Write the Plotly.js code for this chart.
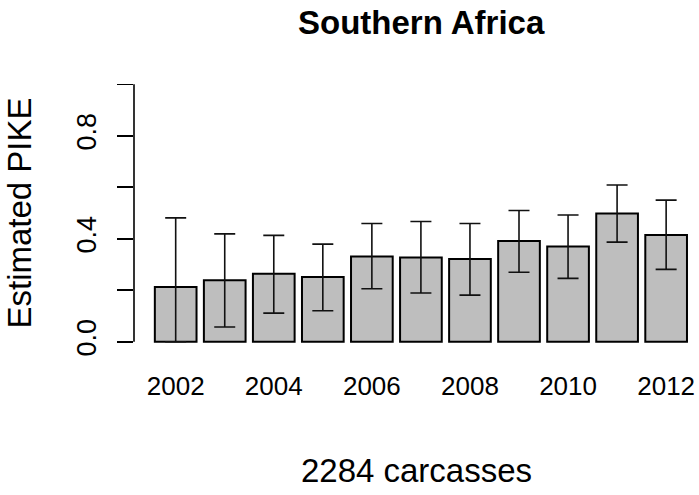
<!DOCTYPE html>
<html>
<head>
<meta charset="utf-8">
<script src="https://cdn.plot.ly/plotly-3.0.1.min.js"></script>
<style>html,body{margin:0;padding:0;background:#fff;}#chart{width:699px;height:495px;}</style>
</head>
<body>
<div id="chart"></div>
<script>
// Data
var years = [2002, 2003, 2004, 2005, 2006, 2007, 2008, 2009, 2010, 2011, 2012];
var pike  = [0.213, 0.239, 0.264, 0.251, 0.331, 0.327, 0.321, 0.391, 0.370, 0.498, 0.415];
var upper = [0.481, 0.419, 0.413, 0.379, 0.459, 0.467, 0.459, 0.510, 0.492, 0.609, 0.550];
var lower = [0.000, 0.057, 0.111, 0.120, 0.206, 0.189, 0.181, 0.270, 0.246, 0.387, 0.281];
var xTickVals = [2002, 2004, 2006, 2008, 2010, 2012];
var xTickText = ['2002', '2004', '2006', '2008', '2010', '2012'];
var yTickVals = [0, 0.2, 0.4, 0.6, 0.8, 1.0];
var yTickText = ['0.0', '', '0.4', '', '0.8', ''];

var errPlus = pike.map(function (v, i) { return upper[i] - v; });
var errMinus = pike.map(function (v, i) { return v - lower[i]; });

var font = 'Liberation Sans, Arial, Helvetica, sans-serif';

var trace = {
  type: 'bar',
  x: years,
  y: pike,
  width: 0.85,
  marker: { color: '#bebebe', line: { color: '#000', width: 2 } },
  error_y: {
    type: 'data', symmetric: false,
    array: errPlus, arrayminus: errMinus,
    color: '#111', thickness: 1.6, width: 10.5
  },
  hoverinfo: 'x+y'
};

var layout = {
  width: 699, height: 495,
  margin: { l: 134, r: 0, t: 74, b: 143 },
  paper_bgcolor: '#fff', plot_bgcolor: '#fff',
  showlegend: false,
  font: { family: font, color: '#000' },
  title: {
    text: '<b>Southern Africa</b>',
    font: { family: font, size: 33, color: '#000' },
    xref: 'container', x: 0.6025, xanchor: 'center',
    yref: 'container', y: 0.955, yanchor: 'middle'
  },
  xaxis: {
    range: [2001.15, 2012.67],
    tickvals: xTickVals, ticktext: xTickText,
    ticks: '', showline: false, showgrid: false, zeroline: false,
    tickfont: { family: font, size: 26, color: '#000' },
    ticklabelstandoff: 16,
    title: { text: '2284 carcasses', font: { family: font, size: 33, color: '#000' }, standoff: 58 }
  },
  yaxis: {
    range: [-0.04, 1.04],
    tickvals: yTickVals, ticktext: yTickText,
    ticks: 'outside', ticklen: 16, tickwidth: 1.6, tickcolor: '#000',
    tickangle: -90,
    showline: false, showgrid: false, zeroline: false,
    tickfont: { family: font, size: 27, color: '#000' },
    ticklabelstandoff: 10,
    title: { text: 'Estimated PIKE', font: { family: font, size: 33, color: '#000' }, standoff: 30 }
  },
  shapes: [{
    type: 'line', xref: 'paper', yref: 'y',
    x0: 0, x1: 0, y0: 0, y1: 1,
    line: { color: '#000', width: 1.6 }
  }]
};

Plotly.newPlot('chart', [trace], layout, { displayModeBar: false, staticPlot: true });
</script>
</body>
</html>
